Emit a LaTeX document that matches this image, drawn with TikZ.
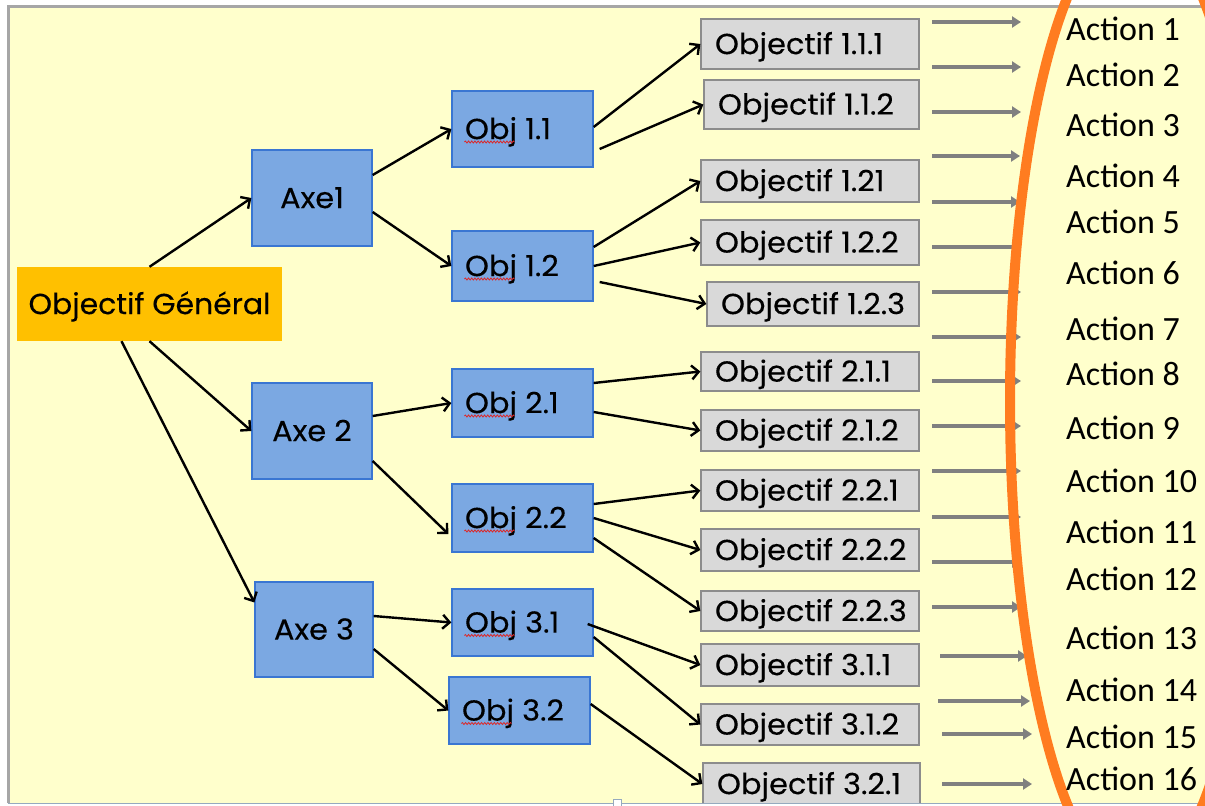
\documentclass[tikz,border=0pt]{standalone}
\usepackage{fontspec}
\setmainfont{Poppins}
\newfontfamily\ogfont{Poppins}[FakeStretch=1.03,FakeBold=0.2]
\newfontfamily\wfont{Poppins}[FakeStretch=1.05,FakeBold=0.2,Numbers=Monospaced]
\newfontfamily\actfont{Carlito}
\newcommand\leftin[2]{\makebox[#1][l]{#2}}
\usetikzlibrary{arrows.meta,decorations.pathmorphing}
\definecolor{bgyellow}{RGB}{255,255,204}
\definecolor{framegray}{RGB}{166,166,166}
\definecolor{bottomline}{RGB}{150,170,190}
\definecolor{ogfill}{RGB}{255,192,0}
\definecolor{bluefill}{RGB}{123,168,226}
\definecolor{blueline}{RGB}{58,118,210}
\definecolor{grayfill}{RGB}{217,217,217}
\definecolor{grayline}{RGB}{140,140,140}
\definecolor{arrowgray}{RGB}{128,128,128}
\definecolor{orangeline}{RGB}{255,124,32}
\definecolor{spellred}{RGB}{220,40,40}
\begin{document}
\begin{tikzpicture}[x=1pt,y=-1pt,
  boxfont/.style={font=\wfont\fontsize{29}{34}\selectfont,text height=20.2pt,text depth=0pt},
  ogbox/.style={font=\ogfont\fontsize{29}{34}\selectfont,text height=20.2pt,text depth=0pt,rectangle,fill=ogfill,inner sep=0pt,minimum width=265pt,minimum height=74pt},
  axebox/.style={boxfont,rectangle,fill=bluefill,draw=blueline,line width=1.3pt,inner sep=0pt},
  objbox/.style={boxfont,rectangle,fill=bluefill,draw=blueline,line width=1.3pt,inner xsep=13pt,inner ysep=0pt,minimum width=141pt},
  subbox/.style={boxfont,rectangle,fill=grayfill,draw=grayline,line width=1.3pt,inner xsep=14pt,inner ysep=0pt},
  conn/.style={draw=black,line width=2.4pt,-{Straight Barb[length=7pt,width=14pt]}},
  garrow/.style={draw=arrowgray,line width=4.5pt,-{Triangle[length=9pt,width=11pt]}},
  actlabel/.style={font=\actfont\fontsize{34}{40}\selectfont,anchor=base west,inner sep=0pt},
  spell/.style={draw=spellred,line width=0.8pt,decorate,decoration={snake,amplitude=1pt,segment length=3.2pt}}
]
\useasboundingbox (0,0) rectangle (1205,806);
\fill[white] (0,0) rectangle (1205,806);
\fill[bgyellow] (8,6) rectangle (1205,803);
\draw[framegray,line width=3pt] (8,803) -- (8,6) -- (1205,6);

% main objective
\node[ogbox] (og) at (149.5,304) {Objectif Général};

% axes
\node[axebox,minimum width=120pt,minimum height=96pt] (a1) at (312,198) {Axe1};
\node[axebox,minimum width=120pt,minimum height=96pt] (a2) at (312,431) {Axe 2};
\node[axebox,minimum width=118pt,minimum height=95pt] (a3) at (314,629.5) {Axe 3};

% objectives
\node[objbox,minimum height=76pt] (o11) at (522.5,129) {\leftin{115pt}{Obj 1.1}};
\node[objbox,minimum height=70pt] (o12) at (522.5,266) {\leftin{115pt}{Obj 1.2}};
\node[objbox,minimum height=68pt] (o21) at (522.5,403) {\leftin{115pt}{Obj 2.1}};
\node[objbox,minimum height=68pt] (o22) at (522.5,518) {\leftin{115pt}{Obj 2.2}};
\node[objbox,minimum height=67pt] (o31) at (522.5,622.5) {\leftin{115pt}{Obj 3.1}};
\node[objbox,minimum height=67pt] (o32) at (519.5,710.5) {\leftin{115pt}{Obj 3.2}};

% sub-objectives
\node[subbox,minimum height=50pt] (g111) at (810,44) {\leftin{190pt}{Objectif 1.1.1}};
\node[subbox,minimum height=49pt] (g112) at (811.5,104.5) {\leftin{187pt}{Objectif 1.1.2}};
\node[subbox,minimum height=42pt] (g121) at (810,181) {\leftin{190pt}{Objectif 1.21}};
\node[subbox,minimum height=45pt] (g122) at (810,242.5) {\leftin{190pt}{Objectif 1.2.2}};
\node[subbox,minimum height=44pt] (g123) at (813,304) {\leftin{184pt}{Objectif 1.2.3}};
\node[subbox,minimum height=39pt] (g211) at (810,371.5) {\leftin{190pt}{Objectif 2.1.1}};
\node[subbox,minimum height=41pt] (g212) at (810,430.5) {\leftin{190pt}{Objectif 2.1.2}};
\node[subbox,minimum height=41pt] (g221) at (810,490.5) {\leftin{190pt}{Objectif 2.2.1}};
\node[subbox,minimum height=42pt] (g222) at (810,550) {\leftin{190pt}{Objectif 2.2.2}};
\node[subbox,minimum height=40pt] (g223) at (810,611) {\leftin{190pt}{Objectif 2.2.3}};
\node[subbox,minimum height=42pt] (g311) at (810,665) {\leftin{190pt}{Objectif 3.1.1}};
\node[subbox,minimum height=41pt] (g312) at (810,724.5) {\leftin{190pt}{Objectif 3.1.2}};
\node[subbox,minimum height=42pt] (g321) at (811.5,784) {\leftin{189pt}{Objectif 3.2.1}};

% spell-check underlines
\foreach \n in {o11,o12,o21,o22,o31,o32}
  \draw[spell] ([xshift=13pt,yshift=-13pt]\n.west) -- ++(50,0);

% connectors
\draw[conn] (og.north) -- (a1.west);
\draw[conn] (og.south) -- (a2.west);
\draw[conn] ([xshift=-28pt]og.south) -- ([yshift=27pt]a3.west);

\draw[conn] ([yshift=23pt]a1.east) -- (o11.west);
\draw[conn] ([yshift=-14pt]a1.east) -- (o12.west);
\draw[conn] ([yshift=15pt]a2.east) -- (o21.west);
\draw[conn] ([yshift=-30pt]a2.east) -- ([xshift=-3pt,yshift=-16pt]o22.west);
\draw[conn] ([yshift=13.5pt]a3.east) -- (o31.west);
\draw[conn] ([yshift=-19.5pt]a3.east) -- (o32.west);

\draw[conn] ([yshift=2pt]o11.east) -- (g111.west);
\draw[conn] ([xshift=6pt,yshift=-20pt]o11.east) -- (g112.west);
\draw[conn] ([yshift=19pt]o12.east) -- (g121.west);
\draw[conn] (o12.east) -- (g122.west);
\draw[conn] ([xshift=6pt,yshift=-16pt]o12.east) -- (g123.west);
\draw[conn] ([yshift=20pt]o21.east) -- (g211.west);
\draw[conn] ([yshift=-9pt]o21.east) -- (g212.west);
\draw[conn] ([yshift=14pt]o22.east) -- (g221.west);
\draw[conn] (o22.east) -- (g222.west);
\draw[conn] ([yshift=-20pt]o22.east) -- (g223.west);
\draw[conn] ([xshift=-6pt,yshift=-1.5pt]o31.east) -- (g311.west);
\draw[conn] ([yshift=-14.5pt]o31.east) -- (g312.west);
\draw[conn] ([yshift=6.5pt]o32.east) -- (g321.west);

% grey arrows towards the actions
\foreach \yy/\xa/\xb in {22/932/1021,67/932/1021,112/932/1021,156/932/1020,202/932/1020,
  247/932/1021,292/932/1021,337/932/1021,381/932/1021,426/932/1021,471/932/1021,
  517/932/1021,562/932/1021,607/932/1021,656/940/1027,701/938/1030,734/942/1032,784/942/1032}
  \draw[garrow] (\xa,\yy) -- (\xb,\yy);

% bottom of the frame
\fill[white] (0,804) rectangle (1205,806);
\draw[bottomline,line width=1.5pt] (8,803.7) -- (1205,803.7);
\draw[bottomline,fill=white,line width=1pt] (613,799) rectangle (621,806);

% orange curve
\begin{scope}
  \clip (0,0) rectangle (1205,806);
  \draw[orangeline,line width=10pt] (1135,401) ellipse [x radius=125, y radius=480];
\end{scope}

% actions
\foreach \i/\yy in {1/40.7,2/86.4,3/136.9,4/187.9,5/233.4,6/284.9,7/340.9,8/385.9,
  9/439.9,10/492.9,11/543.9,12/590.4,13/649.9,14/701,15/748,16/790}
  \node[actlabel] (act\i) at (1066,\yy) {Action \i};
\end{tikzpicture}
\end{document}
